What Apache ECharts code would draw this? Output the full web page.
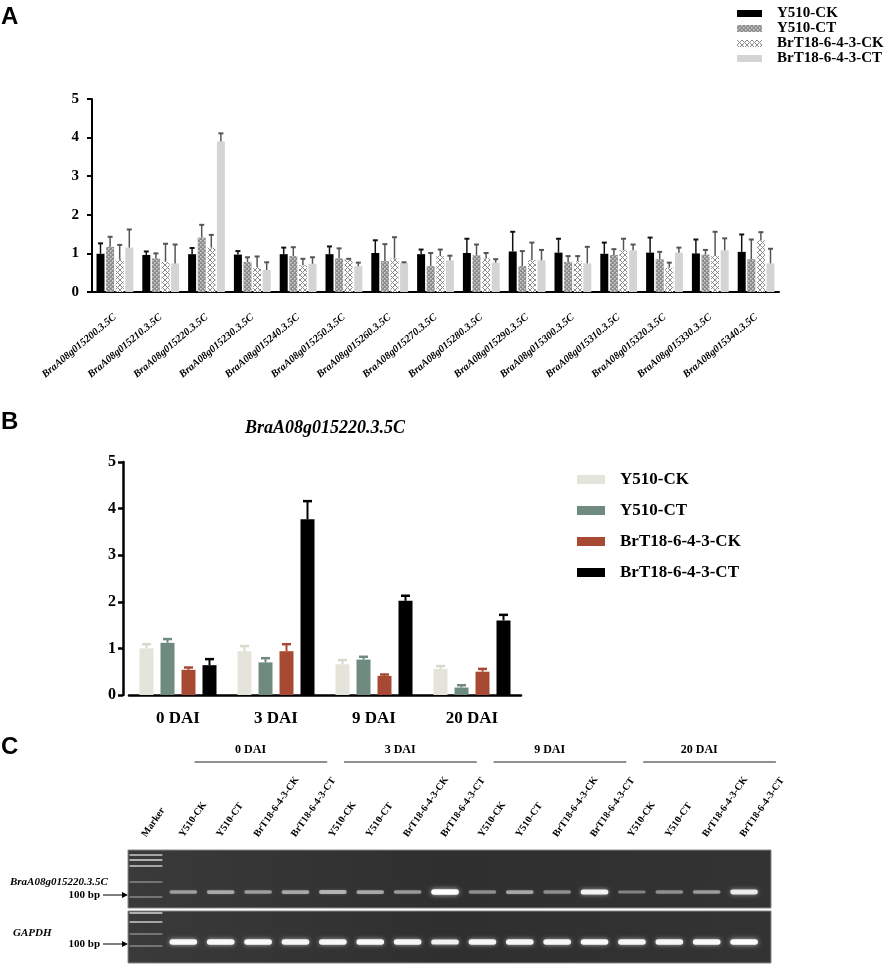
<!DOCTYPE html>
<html>
<head>
<meta charset="utf-8">
<script src="https://cdn.jsdelivr.net/npm/echarts/dist/echarts.min.js"></script>
<style>
html, body { margin: 0; padding: 0; background: #fff; }
.layer { position: absolute; left: 0; top: 0; width: 894px; height: 965px; }
</style>
</head>
<body>
<div id="chartA" class="layer"></div>
<div id="chartB" class="layer"></div>
<div id="chartC" class="layer"></div>
<script>
// ---- data ----
var genes = ['BraA08g015200.3.5C', 'BraA08g015210.3.5C', 'BraA08g015220.3.5C', 'BraA08g015230.3.5C',
    'BraA08g015240.3.5C', 'BraA08g015250.3.5C', 'BraA08g015260.3.5C', 'BraA08g015270.3.5C',
    'BraA08g015280.3.5C', 'BraA08g015290.3.5C', 'BraA08g015300.3.5C', 'BraA08g015310.3.5C',
    'BraA08g015320.3.5C', 'BraA08g015330.3.5C', 'BraA08g015340.3.5C'];
var lines = ['Y510-CK', 'Y510-CT', 'BrT18-6-4-3-CK', 'BrT18-6-4-3-CT'];

// panel A: relative expression (mean, SD)
var aY510CK = [0.99, 0.96, 0.98, 0.97, 0.98, 0.98, 1.01, 0.98, 1.01, 1.05, 1.02, 0.99, 1.02, 1.00, 1.04];
var aY510CKsd = [0.27, 0.09, 0.16, 0.09, 0.17, 0.20, 0.33, 0.12, 0.37, 0.51, 0.36, 0.29, 0.39, 0.36, 0.45];
var aY510CT = [1.17, 0.87, 1.41, 0.78, 0.93, 0.87, 0.80, 0.67, 0.95, 0.67, 0.78, 0.96, 0.85, 0.97, 0.85];
var aY510CTsd = [0.26, 0.13, 0.33, 0.12, 0.23, 0.26, 0.44, 0.34, 0.28, 0.39, 0.15, 0.15, 0.19, 0.12, 0.51];
var aBrCK = [0.86, 0.78, 1.15, 0.65, 0.69, 0.84, 0.87, 0.93, 0.87, 0.82, 0.80, 1.08, 0.63, 0.93, 1.34];
var aBrCKsd = [0.36, 0.47, 0.33, 0.27, 0.17, 0.02, 0.55, 0.17, 0.14, 0.46, 0.13, 0.30, 0.13, 0.63, 0.21];
var aBrCT = [1.15, 0.74, 3.90, 0.57, 0.73, 0.67, 0.75, 0.82, 0.76, 0.82, 0.74, 1.08, 1.02, 1.08, 0.74];
var aBrCTsd = [0.47, 0.49, 0.21, 0.20, 0.17, 0.09, 0.02, 0.12, 0.09, 0.27, 0.43, 0.15, 0.13, 0.31, 0.38];

// panel B: BraA08g015220.3.5C over time
var days = ['0 DAI', '3 DAI', '9 DAI', '20 DAI'];
var bY510CK = [1.00, 0.94, 0.66, 0.56];
var bY510CKsd = [0.09, 0.11, 0.09, 0.06];
var bY510CT = [1.12, 0.70, 0.76, 0.16];
var bY510CTsd = [0.08, 0.09, 0.06, 0.05];
var bBrCK = [0.54, 0.94, 0.41, 0.50];
var bBrCKsd = [0.05, 0.15, 0.03, 0.06];
var bBrCT = [0.64, 3.77, 2.02, 1.60];
var bBrCTsd = [0.13, 0.39, 0.11, 0.12];

// panel C: gel lanes and band brightness
var laneNames = ['Marker',
    'Y510-CK', 'Y510-CT', 'BrT18-6-4-3-CK', 'BrT18-6-4-3-CT',
    'Y510-CK', 'Y510-CT', 'BrT18-6-4-3-CK', 'BrT18-6-4-3-CT',
    'Y510-CK', 'Y510-CT', 'BrT18-6-4-3-CK', 'BrT18-6-4-3-CT',
    'Y510-CK', 'Y510-CT', 'BrT18-6-4-3-CK', 'BrT18-6-4-3-CT'];
var gelGroups = ['0 DAI', '3 DAI', '9 DAI', '20 DAI'];
var targetBand = [0.45, 0.5, 0.45, 0.5, 0.55, 0.5, 0.45, 1.0, 0.4, 0.5, 0.4, 0.9, 0.35, 0.4, 0.45, 0.85];
var gapdhBand = [0.95, 0.95, 0.95, 0.93, 0.93, 0.95, 0.93, 0.9, 0.93, 0.93, 0.93, 0.95, 0.93, 0.93, 0.95, 1.0];
var markerLadder = [[5, 0.55], [10, 0.6], [16, 0.55], [32, 0.3], [47, 0.3], [63, 0.6], [72, 0.55], [84, 0.3], [96, 0.3]];

var SERIF = '"Liberation Serif", "DejaVu Serif", serif';

function pattern(kind) {
    var c = document.createElement('canvas');
    var ctx = c.getContext('2d');
    if (kind === 'dots') {
        c.width = 4; c.height = 4;
        ctx.fillStyle = '#8c8c8c'; ctx.fillRect(0, 0, 4, 4);
        ctx.fillStyle = '#d2d2d2';
        ctx.fillRect(0, 0, 1.5, 1.5); ctx.fillRect(2, 2, 1.5, 1.5);
    } else {
        c.width = 5; c.height = 5;
        ctx.fillStyle = '#fff'; ctx.fillRect(0, 0, 5, 5);
        ctx.strokeStyle = '#8a8a8a'; ctx.lineWidth = 1;
        ctx.beginPath();
        ctx.moveTo(0, 0); ctx.lineTo(5, 5);
        ctx.moveTo(5, 0); ctx.lineTo(0, 5);
        ctx.stroke();
    }
    return { image: c, repeat: 'repeat' };
}

function errBar(offset, color, capHalf, lw) {
    return function (params, api) {
        var base = api.coord([api.value(0), api.value(1)]);
        var top = api.coord([api.value(0), api.value(1) + api.value(2)]);
        var x = base[0] + offset;
        return {
            type: 'group',
            children: [
                { type: 'line', shape: { x1: x, y1: base[1], x2: x, y2: top[1] }, style: { stroke: color, lineWidth: lw } },
                { type: 'line', shape: { x1: x - capHalf, y1: top[1], x2: x + capHalf, y2: top[1] }, style: { stroke: color, lineWidth: lw + 0.5 } }
            ]
        };
    };
}

function pairs(means, sds) {
    return means.map(function (m, i) { return [i, m, sds[i]]; });
}

// ---- panel A ----
var chartA = echarts.init(document.getElementById('chartA'));
var aMeans = [aY510CK, aY510CT, aBrCK, aBrCT];
var aSds = [aY510CKsd, aY510CTsd, aBrCKsd, aBrCTsd];
var aColors = ['#000', pattern('dots'), pattern('check'), '#d4d4d4'];
var aErrColors = ['#111', '#555', '#555', '#555'];
var aStep = 9.6;
var seriesA = [];
lines.forEach(function (name, k) {
    seriesA.push({
        name: name, type: 'bar', data: aMeans[k], barWidth: 8, barGap: '20%',
        itemStyle: { color: aColors[k] }, z: 2
    });
});
lines.forEach(function (name, k) {
    seriesA.push({
        name: 'errA' + k, type: 'custom', z: 3,
        renderItem: errBar((k - 1.5) * aStep, aErrColors[k], 2.5, 1.5),
        data: pairs(aMeans[k], aSds[k])
    });
});
chartA.setOption({
    backgroundColor: 'transparent',
    animation: false,
    graphic: [
        { type: 'text', left: 1, top: 5, style: { text: 'A', font: 'bold 24px "Liberation Sans", Arial, sans-serif', fill: '#000' } }
    ],
    legend: {
        data: lines, orient: 'vertical', left: 732, top: 1,
        icon: 'rect', itemWidth: 25, itemHeight: 7, itemGap: 0,
        textStyle: { fontFamily: SERIF, fontWeight: 'bold', fontSize: 15, color: '#000', lineHeight: 15, padding: [0, 0, 0, 10] }
    },
    grid: { left: 92, right: 115, top: 99, bottom: 673 },
    xAxis: {
        type: 'category', data: genes,
        axisLine: { lineStyle: { color: '#000', width: 2 } },
        axisTick: { alignWithLabel: true, length: 8, lineStyle: { color: '#000', width: 2 } },
        axisLabel: { interval: 0, rotate: 40, margin: 24, color: '#000', fontFamily: SERIF, fontStyle: 'italic', fontWeight: 'bold', fontSize: 10.5 }
    },
    yAxis: {
        type: 'value', min: 0, max: 5, interval: 1,
        splitLine: { show: false },
        axisLine: { show: true, lineStyle: { color: '#000', width: 2 } },
        axisTick: { show: true, length: 5, lineStyle: { color: '#000', width: 2 } },
        axisLabel: { margin: 13, color: '#000', fontFamily: SERIF, fontWeight: 'bold', fontSize: 15 }
    },
    series: seriesA
});

// ---- panel B ----
var chartB = echarts.init(document.getElementById('chartB'));
var bMeans = [bY510CK, bY510CT, bBrCK, bBrCT];
var bSds = [bY510CKsd, bY510CTsd, bBrCKsd, bBrCTsd];
var bColors = ['#e4e4da', '#6f8a7e', '#a84a33', '#000'];
var bStep = 21;
var seriesB = [];
lines.forEach(function (name, k) {
    seriesB.push({
        name: name, type: 'bar', data: bMeans[k], barWidth: 14, barGap: '50%',
        itemStyle: { color: bColors[k] }, z: 2
    });
});
lines.forEach(function (name, k) {
    seriesB.push({
        name: 'errB' + k, type: 'custom', z: 3,
        renderItem: errBar((k - 1.5) * bStep, bColors[k] === '#e4e4da' ? '#d8d8cc' : bColors[k], 4.5, 2),
        data: pairs(bMeans[k], bSds[k])
    });
});
chartB.setOption({
    backgroundColor: 'transparent',
    animation: false,
    graphic: [
        { type: 'text', left: 1, top: 410, style: { text: 'B', font: 'bold 24px "Liberation Sans", Arial, sans-serif', fill: '#000' } },
        { type: 'text', x: 325, y: 428, style: { text: 'BraA08g015220.3.5C', align: 'center', verticalAlign: 'middle', font: 'italic bold 18px ' + SERIF, fill: '#000' } }
    ],
    legend: {
        data: lines, orient: 'vertical', left: 572, top: 466,
        icon: 'rect', itemWidth: 28, itemHeight: 9, itemGap: 14,
        textStyle: { fontFamily: SERIF, fontWeight: 'bold', fontSize: 17, color: '#000', lineHeight: 17, padding: [0, 0, 0, 10] }
    },
    grid: { left: 129, right: 373, top: 462, bottom: 270 },
    xAxis: {
        type: 'category', data: days,
        axisLine: { lineStyle: { color: '#000', width: 2.5 } },
        axisTick: { alignWithLabel: true, length: 8, lineStyle: { color: '#000', width: 2.5 } },
        axisLabel: { margin: 15, color: '#000', fontFamily: SERIF, fontWeight: 'bold', fontSize: 17 }
    },
    yAxis: {
        type: 'value', min: 0, max: 5, interval: 1, offset: 6,
        splitLine: { show: false },
        axisLine: { show: true, lineStyle: { color: '#000', width: 2.5 } },
        axisTick: { show: true, length: 5, lineStyle: { color: '#000', width: 2.5 } },
        axisLabel: { margin: 7, color: '#000', fontFamily: SERIF, fontWeight: 'bold', fontSize: 16 }
    },
    series: seriesB
});

// ---- panel C (gel) ----
var chartC = echarts.init(document.getElementById('chartC'));
var GX0 = -0.48, GX1 = 16.72;

function arrow(y) {
    return [
        { type: 'text', x: 100, y: y, style: { text: '100 bp', align: 'right', verticalAlign: 'middle', font: 'bold 11px ' + SERIF, fill: '#000' } },
        { type: 'line', shape: { x1: 103, y1: y, x2: 123, y2: y }, style: { stroke: '#000', lineWidth: 1 } },
        { type: 'polygon', shape: { points: [[122, y - 3], [128, y], [122, y + 3]] }, style: { fill: '#000' } }
    ];
}

function bandRender(params, api) {
    var v = api.value(2);
    var c = api.coord([api.value(0), api.value(1)]);
    var w = api.size([0.74, 0])[0];
    var h = 2 + 3.5 * v;
    return {
        type: 'rect',
        shape: { x: c[0] - w / 2, y: c[1] - h / 2, width: w, height: h, r: h / 2 },
        style: { fill: 'rgba(255,255,255,' + v + ')', shadowBlur: 5 * v, shadowColor: 'rgba(255,255,255,' + (0.7 * v) + ')' }
    };
}

chartC.setOption({
    backgroundColor: 'transparent',
    animation: false,
    graphic: [
        { type: 'text', left: 1, top: 735, style: { text: 'C', font: 'bold 24px "Liberation Sans", Arial, sans-serif', fill: '#000' } },
        { type: 'text', x: 10, y: 882, style: { text: 'BraA08g015220.3.5C', verticalAlign: 'middle', font: 'italic bold 11px ' + SERIF, fill: '#000' } },
        { type: 'text', x: 13, y: 933, style: { text: 'GAPDH', verticalAlign: 'middle', font: 'italic bold 11px ' + SERIF, fill: '#000' } }
    ].concat(arrow(895), arrow(944)),
    grid: { left: 128, top: 850, width: 643, height: 113 },
    xAxis: { type: 'value', min: GX0, max: GX1, show: false },
    yAxis: { type: 'value', min: 0, max: 113, inverse: true, show: false },
    series: [
        {   // gel panels
            type: 'custom', clip: false, z: 1,
            data: [[0, 58], [61, 113]],
            renderItem: function (params, api) {
                var p0 = api.coord([GX0, api.value(0)]);
                var p1 = api.coord([GX1, api.value(1)]);
                return {
                    type: 'rect',
                    shape: { x: p0[0], y: p0[1], width: p1[0] - p0[0], height: p1[1] - p0[1] },
                    style: {
                        fill: new echarts.graphic.LinearGradient(0, 0, 1, 0, [
                            { offset: 0, color: '#3a3a3a' }, { offset: 0.5, color: '#2f2f2f' }, { offset: 1, color: '#333' }
                        ]),
                        stroke: '#888', lineWidth: 1
                    }
                };
            }
        },
        {   // marker ladder
            type: 'custom', clip: false, z: 2,
            data: markerLadder.map(function (d) { return [0, d[0], d[1]]; }),
            renderItem: function (params, api) {
                var c = api.coord([api.value(0), api.value(1)]);
                var w = api.size([0.88, 0])[0];
                return {
                    type: 'rect', shape: { x: c[0] - w / 2, y: c[1] - 1, width: w, height: 2 },
                    style: { fill: 'rgba(255,255,255,' + api.value(2) + ')' }
                };
            }
        },
        {   // target gene bands
            type: 'custom', clip: false, z: 2,
            data: targetBand.map(function (v, i) { return [i + 1, 42, v]; }),
            renderItem: bandRender
        },
        {   // GAPDH bands
            type: 'custom', clip: false, z: 2,
            data: gapdhBand.map(function (v, i) { return [i + 1, 92, v]; }),
            renderItem: bandRender
        },
        {   // lane labels
            type: 'custom', clip: false, z: 3,
            data: laneNames.map(function (n, i) { return [i, 0]; }),
            renderItem: function (params, api) {
                var c = api.coord([api.value(0), 0]);
                return {
                    type: 'text', x: c[0] - 2, y: c[1] - 14, rotation: 55 * Math.PI / 180,
                    style: { text: laneNames[params.dataIndex], align: 'left', verticalAlign: 'middle', font: 'bold 10px ' + SERIF, fill: '#000' }
                };
            }
        },
        {   // DAI headers
            type: 'custom', clip: false, z: 3,
            data: gelGroups.map(function (g, i) { return [i * 4 + 1, i * 4 + 4]; }),
            renderItem: function (params, api) {
                var a = api.coord([api.value(0) + 0.3, -88]);
                var b = api.coord([api.value(1) + 0.85, -88]);
                var t = api.coord([(api.value(0) + api.value(1)) / 2 + 0.3, -100]);
                return {
                    type: 'group', children: [
                        { type: 'line', shape: { x1: a[0], y1: a[1], x2: b[0], y2: b[1] }, style: { stroke: '#222', lineWidth: 1.2 } },
                        { type: 'text', x: t[0], y: t[1], style: { text: gelGroups[params.dataIndex], align: 'center', verticalAlign: 'middle', font: 'bold 12px ' + SERIF, fill: '#000' } }
                    ]
                };
            }
        }
    ]
});
</script>
</body>
</html>
